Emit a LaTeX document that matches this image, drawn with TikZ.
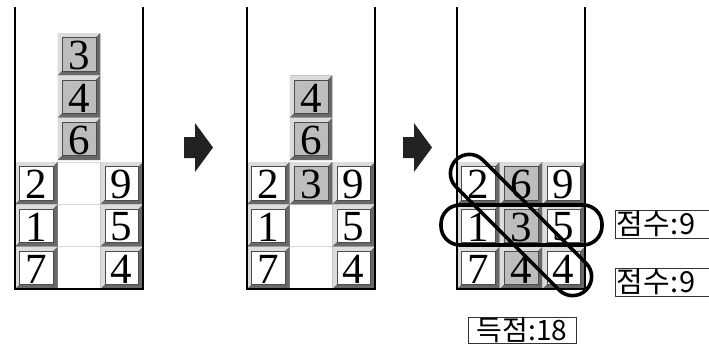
\documentclass[tikz,border=0pt]{standalone}
\usepackage{fontspec}
\newfontfamily\digfont{Liberation Serif}
\newfontfamily\krfont{Noto Sans CJK KR}
\newfontfamily\krspaced[LetterSpace=2]{Noto Sans CJK KR}
\definecolor{bevlight}{HTML}{DCDCDC}
\definecolor{bevmid}{HTML}{9A9A9A}
\definecolor{bevdark}{HTML}{686868}
\definecolor{tilegray}{HTML}{BDBDBD}
\definecolor{gridfaint}{HTML}{D6D6D6}
\definecolor{arrowcol}{HTML}{222222}
\def\cw{42.67}
\def\ch{42.33}
\def\bv{4.5}
\tikzset{
  wall/.style={line width=2pt, draw=black},
  innersq/.style={draw=black!70, line width=0.6pt},
  digit/.style={font=\digfont\fontsize{43}{43}\selectfont, inner sep=0pt},
  oval/.style={draw=black, line width=3.6pt, rounded corners=19pt},
  scorebox/.style={draw=black!80, line width=0.9pt, font=\krspaced\fontsize{29}{29}\selectfont,
     inner xsep=1pt, inner ysep=0pt, minimum height=28pt, text width=98pt, align=left, anchor=west},
  totalbox/.style={draw=black!80, line width=0.9pt, font=\krfont\fontsize{28}{28}\selectfont,
     inner sep=0pt, minimum height=26pt, minimum width=108pt},
  blockarrow/.style={fill=arrowcol}
}
% name, panel x0, col (0..2), row (1 = bottom), fill, digit
\newcommand\tileat[6]{%
  \begin{scope}[shift={(#2+#3*\cw,289-#4*\ch)}]
    \fill[bevmid] (0,0) rectangle (\cw,\ch);
    \fill[bevlight] (0,0) -- (\cw,0) -- (\cw-\bv,\bv) -- (\bv,\bv) -- (\bv,\ch-\bv) -- (0,\ch) -- cycle;
    \fill[bevdark] (\cw,0) -- (\cw,\ch) -- (0,\ch) -- (\bv,\ch-\bv) -- (\cw-\bv,\ch-\bv) -- (\cw-\bv,\bv) -- cycle;
    \draw[innersq, fill=#5] (\bv,\bv) rectangle (\cw-\bv,\ch-\bv);
    \node[digit] (#1) at (\cw/2,\ch/2+1.5) {#6};
  \end{scope}}
% faint lines of the 3x3 well bottom
\newcommand\faintgrid[1]{%
  \foreach \k in {0,1,2,3} {\draw[gridfaint, line width=0.8pt] (#1,289-\k*\ch) -- (#1+3*\cw,289-\k*\ch);}
  \foreach \k in {1,2} {\draw[gridfaint, line width=0.8pt] (#1+\k*\cw,289-3*\ch) -- (#1+\k*\cw,289);}}
\newcommand\wellwalls[1]{%
  \draw[wall] (#1,7) -- (#1,289) -- (#1+128,289) -- (#1+128,7);}
\begin{document}
\begin{tikzpicture}[x=1pt,y=-1pt]
\useasboundingbox (0,0) rectangle (709,354);
\fill[white] (0,0) rectangle (709,354);

% ---------- panel 1 ----------
\faintgrid{15}
\tileat{aa}{15}{0}{3}{white}{2}
\tileat{ab}{15}{0}{2}{white}{1}
\tileat{ac}{15}{0}{1}{white}{7}
\tileat{ad}{15}{2}{3}{white}{9}
\tileat{ae}{15}{2}{2}{white}{5}
\tileat{af}{15}{2}{1}{white}{4}
\begin{scope}[yshift=2pt]
\tileat{ag}{15}{1}{6}{tilegray}{3}
\tileat{ah}{15}{1}{5}{tilegray}{4}
\tileat{ai}{15}{1}{4}{tilegray}{6}
\end{scope}
\wellwalls{15}

% arrow 1
\fill[blockarrow] (184,137) -- (195,137) -- (195,123) -- (213,147.5) -- (195,172) -- (195,158) -- (184,158) -- cycle;

% ---------- panel 2 ----------
\faintgrid{247}
\tileat{ba}{247}{0}{3}{white}{2}
\tileat{bb}{247}{0}{2}{white}{1}
\tileat{bc}{247}{0}{1}{white}{7}
\tileat{bd}{247}{2}{3}{white}{9}
\tileat{be}{247}{2}{2}{white}{5}
\tileat{bf}{247}{2}{1}{white}{4}
\tileat{bg}{247}{1}{3}{tilegray}{3}
\begin{scope}[yshift=2pt]
\tileat{bh}{247}{1}{5}{tilegray}{4}
\tileat{bi}{247}{1}{4}{tilegray}{6}
\end{scope}
\wellwalls{247}

% arrow 2
\fill[blockarrow] (403,137) -- (414,137) -- (414,123) -- (432,147.5) -- (414,172) -- (414,158) -- (403,158) -- cycle;

% ---------- panel 3 ----------
\faintgrid{457}
\tileat{ca}{457}{0}{3}{white}{2}
\tileat{cb}{457}{0}{2}{white}{1}
\tileat{cc}{457}{0}{1}{white}{7}
\tileat{cd}{457}{1}{3}{tilegray}{6}
\tileat{ce}{457}{1}{2}{tilegray}{3}
\tileat{cf}{457}{1}{1}{tilegray}{4}
\tileat{cg}{457}{2}{3}{white}{9}
\tileat{ch}{457}{2}{2}{white}{5}
\tileat{ci}{457}{2}{1}{white}{4}
\wellwalls{457}

% selection ovals
\draw[oval] (441,205) rectangle (602,245);
\draw[oval, rotate around={-45:(521,225)}] (521-92,225-19) rectangle (521+92,225+19);

% score labels
\node[scorebox] (s1) at (615,224) {점수:9};
\node[scorebox] (s2) at (615,282) {점수:9};
\node[totalbox] (tot) at (522,330) {득점:18};
\end{tikzpicture}
\end{document}
